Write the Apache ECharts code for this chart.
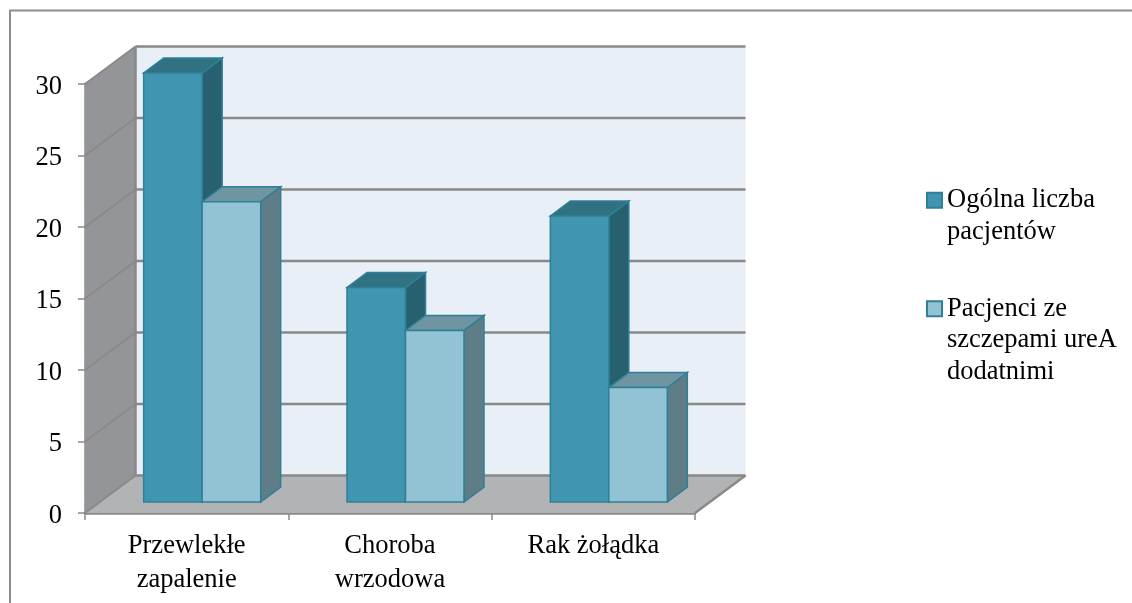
<!DOCTYPE html>
<html>
<head>
<meta charset="utf-8">
<style>html,body{margin:0;padding:0;background:#fff}#chart{width:1132px;height:603px}</style>
<script src="https://cdn.jsdelivr.net/npm/echarts@6/dist/echarts.min.js"></script>
</head>
<body>
<div id="chart"></div>
<script>
// Patients per diagnosis, total vs. ureA-positive strains
const categories = ['Przewlekłe\nzapalenie', 'Choroba\nwrzodowa', 'Rak żołądka'];
const totalPatients = [30, 15, 20];
const ureaPositive = [21, 12, 8];
const seriesNames = ['Ogólna liczba\npacjentów', 'Pacjenci ze\nszczepami ureA\ndodatnimi'];
const valueTicks = [0, 5, 10, 15, 20, 25, 30];

const FONT = '"Liberation Serif", "Times New Roman", serif';
const GREY = '#898989';
// Oblique projection of the box: wall depth, bar set-back and bar depth
const WALL = [50.5, -37.5];
const SETBACK = [15.5, -11];
const DEPTH = [20, -15];
const BAR_WIDTH = 58.5;

const skew = (p, d) => [p[0] + d[0], p[1] + d[1]];
const poly = (points, fill, stroke, width) => ({
  type: 'polygon',
  shape: { points },
  style: { fill, stroke: stroke || null, lineWidth: width || 0 }
});
const line = (a, b, width) => ({
  type: 'line',
  shape: { x1: a[0], y1: a[1], x2: b[0], y2: b[1] },
  style: { stroke: GREY, lineWidth: width }
});

// Side wall, back wall and floor of the plot box, with grid lines running round them
function renderBox(params, api) {
  const n = categories.length;
  const lo = api.coord([0, 0]);
  const hi = api.coord([0, valueTicks[valueTicks.length - 1]]);
  const band = api.size([1, 0])[0];
  const x0 = lo[0] - band / 2;
  const x1 = x0 + band * n;
  const a = [x0, lo[1]], b = [x1, lo[1]], c = [x0, hi[1]];
  const children = [
    poly([a, c, skew(c, WALL), skew(a, WALL)], '#939598'),
    poly([skew(a, WALL), skew(c, WALL), skew([x1, hi[1]], WALL), skew(b, WALL)], '#e8eff6'),
    poly([a, b, skew(b, WALL), skew(a, WALL)], '#b1b3b5'),
    line(skew(a, WALL), skew(c, WALL), 2.5),
    line(b, skew(b, WALL), 2.5)
  ];
  valueTicks.forEach(v => {
    const y = api.coord([0, v])[1];
    const p = [x0, y];
    children.push(line(p, skew(p, WALL), 2));
    children.push(line(skew(p, WALL), skew([x1, y], WALL), 2.5));
  });
  return { type: 'group', children };
}

// Builds one 3D bar: front face plus top and side faces
function barRenderer(side, front, top, flank) {
  return function (params, api) {
    const cat = api.value(0);
    const val = api.value(1);
    const topMid = api.coord([cat, val]);
    const base = api.coord([cat, 0]);
    const left = topMid[0] + SETBACK[0] + (side < 0 ? -BAR_WIDTH : 0);
    const right = left + BAR_WIDTH;
    const yTop = topMid[1] + SETBACK[1];
    const yBase = base[1] + SETBACK[1];
    const tl = [left, yTop], tr = [right, yTop], br = [right, yBase], bl = [left, yBase];
    const edge = '#2f8097';
    return {
      type: 'group',
      children: [
        poly([tr, br, skew(br, DEPTH), skew(tr, DEPTH)], flank, edge, 1.5),
        poly([tl, tr, skew(tr, DEPTH), skew(tl, DEPTH)], top, edge, 1.5),
        poly([tl, tr, br, bl], front, edge, 1.5)
      ]
    };
  };
}

const chart = echarts.init(document.getElementById('chart'), null, { renderer: 'canvas' });
chart.setOption({
  animation: false,
  backgroundColor: '#ffffff',
  graphic: [{
    type: 'rect',
    shape: { x: 10, y: 10.5, width: 1140, height: 620 },
    style: { fill: null, stroke: '#8e8e8e', lineWidth: 2 },
    silent: true
  }],
  grid: { left: 85, top: 84, width: 610, height: 429, containLabel: false },
  xAxis: {
    type: 'category',
    data: categories,
    axisLine: { show: true, lineStyle: { color: GREY, width: 2.5 } },
    axisTick: { show: true, alignWithLabel: false, length: 7, lineStyle: { color: GREY, width: 1.5 } },
    axisLabel: { fontFamily: FONT, fontSize: 26.5, color: '#000', lineHeight: 33.5, margin: 16.5, interval: 0 },
    splitLine: { show: false }
  },
  yAxis: {
    type: 'value',
    min: 0,
    max: 30,
    interval: 5,
    axisLine: { show: true, lineStyle: { color: GREY, width: 2.5 } },
    axisTick: { show: true, length: 7, lineStyle: { color: GREY, width: 1.5 } },
    axisLabel: {
      fontFamily: FONT,
      fontSize: 26.5,
      color: '#000',
      margin: 23,
      formatter: '{tick|{value}}',
      rich: { tick: { fontFamily: FONT, fontSize: 26.5, color: '#000', padding: [6, 0, 0, 0] } }
    },
    splitLine: { show: false }
  },
  legend: {
    orient: 'vertical',
    left: 926,
    top: 153,
    padding: 0,
    icon: 'rect',
    itemWidth: 15,
    itemHeight: 15,
    itemGap: -17.5,
    selectedMode: false,
    textStyle: { fontFamily: FONT, fontSize: 26.5, color: '#000', lineHeight: 31.5 },
    // Leading blank lines keep each swatch level with the first line of its label
    formatter: name => '\n'.repeat(name.split('\n').length - 1) + name,
    data: seriesNames
  },
  series: [
    {
      type: 'custom',
      name: 'box',
      silent: true,
      z: 1,
      clip: false,
      data: [[0, 0]],
      renderItem: renderBox
    },
    {
      type: 'custom',
      name: seriesNames[0],
      z: 2,
      clip: false,
      itemStyle: { color: '#4095b1', borderColor: '#2f8097', borderWidth: 1.5 },
      data: totalPatients.map((v, i) => [i, v]),
      encode: { x: 0, y: 1 },
      renderItem: barRenderer(-1, '#4095b1', '#317282', '#27606f')
    },
    {
      type: 'custom',
      name: seriesNames[1],
      z: 3,
      clip: false,
      itemStyle: { color: '#92c3d5', borderColor: '#2f8097', borderWidth: 1.5 },
      data: ureaPositive.map((v, i) => [i, v]),
      encode: { x: 0, y: 1 },
      renderItem: barRenderer(1, '#92c3d5', '#6f95a3', '#5e7d87')
    }
  ]
});
</script>
</body>
</html>
